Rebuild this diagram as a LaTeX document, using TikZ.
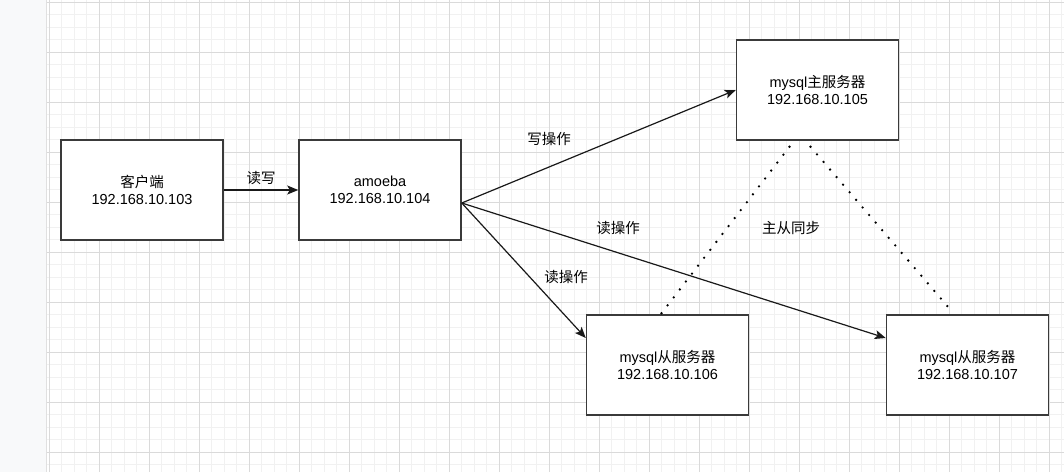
\documentclass[tikz,border=0pt]{standalone}
\usepackage{fontspec}
\setmainfont{Liberation Sans}
\newfontfamily\cjk{Noto Sans CJK SC}
\usepackage{tikz}
\usetikzlibrary{arrows.meta,positioning}
\definecolor{gridminor}{HTML}{F1F1F1}
\definecolor{gridmajor}{HTML}{DADADA}
\definecolor{stripgray}{HTML}{F8F9FA}
\definecolor{boxline}{HTML}{3A3A3A}
\newcommand{\zh}[1]{{\cjk #1}}
\tikzset{
  hostbox/.style={
    draw=boxline, fill=white, line width=1.5pt,
    minimum width=162pt, minimum height=100pt,
    align=center, font=\fontsize{14.5}{17}\selectfont, inner sep=0pt
  },
  linklabel/.style={font=\fontsize{14.5}{17}\selectfont, inner sep=1pt},
  linkarr/.style={-{Stealth[length=11pt,width=9pt,inset=2.5pt]}, draw=black!90, line width=1.2pt},
  syncline/.style={draw=black, line width=2.6pt, line cap=round,
                   dash pattern=on 0pt off 10pt}
}
\begin{document}
\begin{tikzpicture}[x=1pt,y=-1pt]
  \useasboundingbox (0,0) rectangle (1064,472);

  %% ---- canvas grid ----
  \fill[white] (47,0) rectangle (1064,472);
  \foreach \gx in {49,61.5,...,1064}
    \draw[gridminor, line width=0.8pt] (\gx,0) -- (\gx,472);
  \foreach \gy in {2.3,14.8,...,472}
    \draw[gridminor, line width=0.8pt] (47,\gy) -- (1064,\gy);
  \foreach \gx in {49,99,...,1064}
    \draw[gridmajor, line width=0.9pt] (\gx,0) -- (\gx,472);
  \foreach \gy in {2.3,52.3,...,472}
    \draw[gridmajor, line width=0.9pt] (47,\gy) -- (1064,\gy);
  \fill[stripgray] (0,0) rectangle (46,472);
  \draw[black!12, line width=1.5pt] (46.5,0) -- (46.5,472);

  %% ---- hosts ----
  \node[hostbox] (client) at (142,190) {\zh{客户端}\\192.168.10.103};
  \node[hostbox] (amoeba) at (380,190) {amoeba\\192.168.10.104};
  \node[hostbox] (master) at (817.5,90) {mysql\zh{主服务器}\\192.168.10.105};
  \node[hostbox] (slave1) at (667.5,365) {mysql\zh{从服务器}\\192.168.10.106};
  \node[hostbox] (slave2) at (967.5,365) {mysql\zh{从服务器}\\192.168.10.107};

  %% ---- links ----
  \draw[linkarr] (client.east) -- (amoeba.west);
  \draw[linkarr] ([yshift=-13pt]amoeba.east) -- (master.west);
  \draw[linkarr] ([yshift=-13pt]amoeba.east) -- ([yshift=27pt]slave1.west);
  \draw[linkarr] ([yshift=-13pt]amoeba.east) -- ([yshift=27pt]slave2.west);

  %% master/slave sync
  \draw[syncline] ([xshift=-28pt,yshift=-6pt]master.south) -- ([xshift=-6pt,yshift=1pt]slave1.north);
  \draw[syncline] ([xshift=-7pt,yshift=-6pt]master.south) -- ([xshift=-20pt,yshift=8pt]slave2.north);

  %% ---- labels ----
  \node[linklabel] (l_rw) at (261,178) {\zh{读写}};
  \node[linklabel] (l_w) at (549,139) {\zh{写操作}};
  \node[linklabel] (l_r2) at (618,228) {\zh{读操作}};
  \node[linklabel] (l_r1) at (566,277) {\zh{读操作}};
  \node[linklabel] (l_sync) at (791,228) {\zh{主从同步}};

\end{tikzpicture}
\end{document}
